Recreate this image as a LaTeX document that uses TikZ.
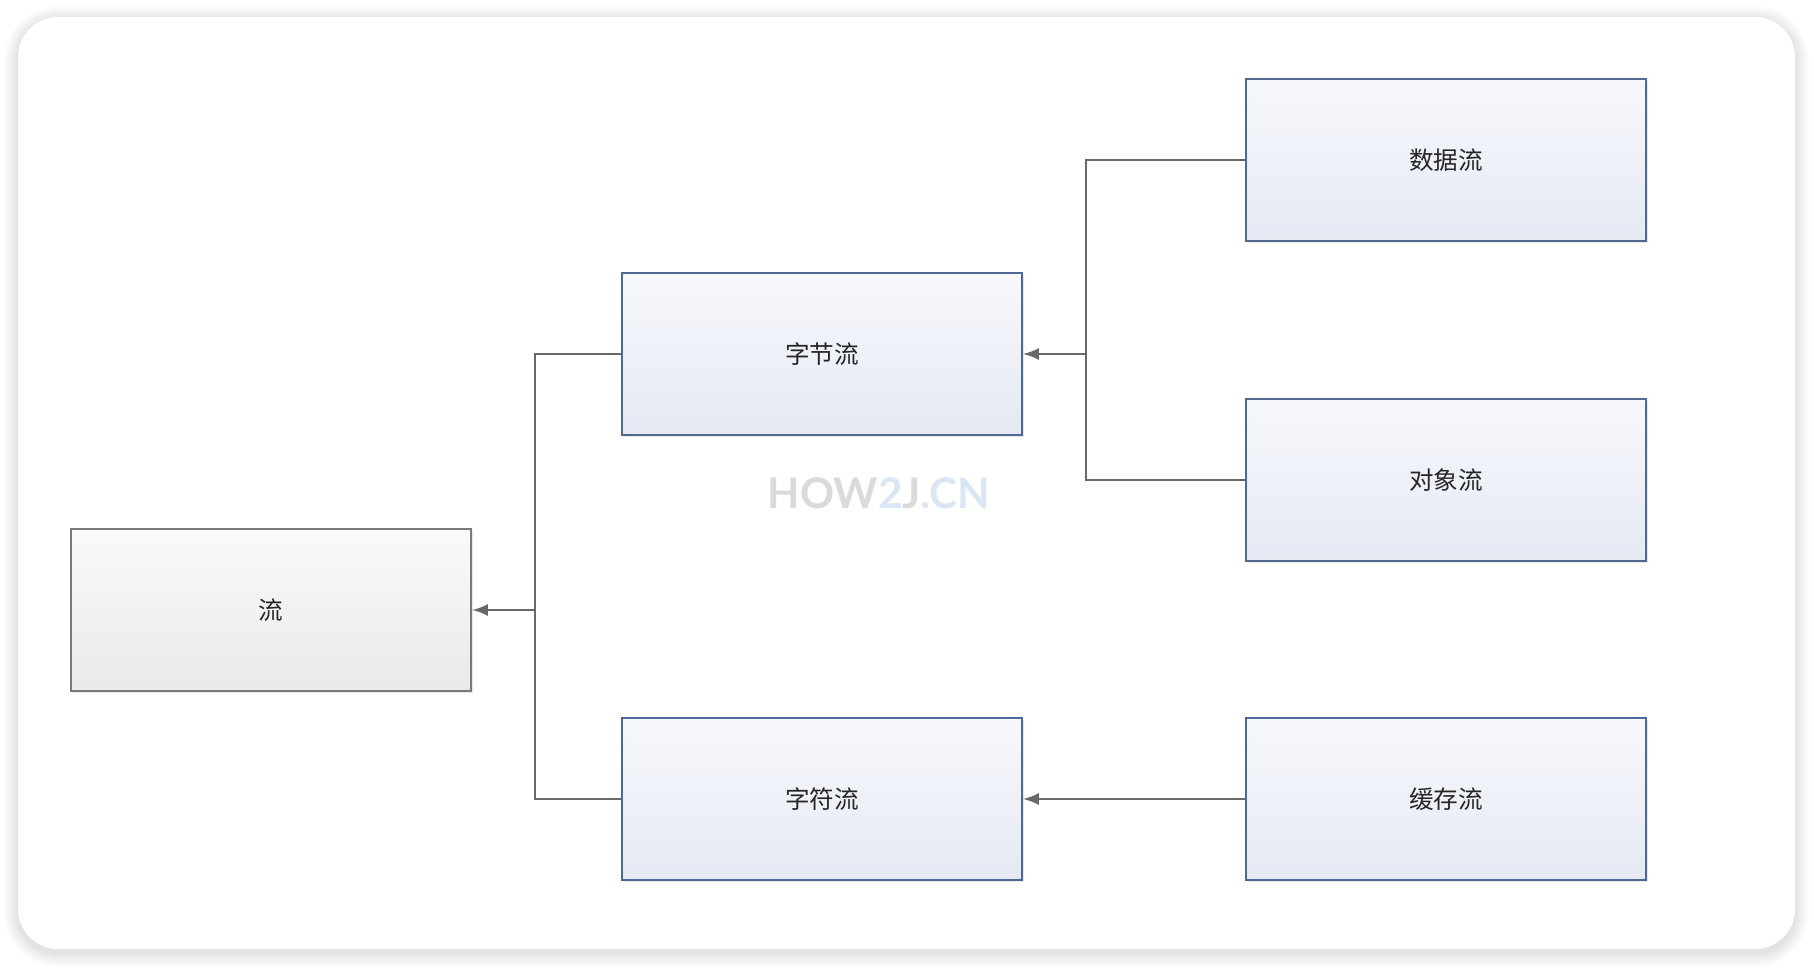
\documentclass[tikz,border=0pt]{standalone}
\usepackage{fontspec}
\newfontfamily\cjk{Noto Sans CJK SC}
\newfontfamily\markfont{Lato}
\usetikzlibrary{shadows}
\definecolor{boxblue}{RGB}{80,105,148}
\definecolor{boxtop}{RGB}{247,248,252}
\definecolor{boxbot}{RGB}{228,233,243}
\definecolor{boxgray}{RGB}{122,122,122}
\definecolor{graytop}{RGB}{250,250,250}
\definecolor{graybot}{RGB}{233,233,233}
\definecolor{linegray}{RGB}{105,105,105}
\definecolor{markgray}{RGB}{218,218,218}
\definecolor{markblue}{RGB}{218,230,244}
\begin{document}
\begin{tikzpicture}
		[x=0.01cm,y=-0.01cm,>=latex,
		 box/.style={rectangle,draw=boxblue,line width=0.6pt,top color=boxtop,bottom color=boxbot,
		   minimum width=4cm,minimum height=1.62cm,inner sep=0pt,
		   font=\cjk\fontsize{7}{8}\selectfont,text=black!85,
		   drop shadow={opacity=0.18,shadow xshift=0.4pt,shadow yshift=-0.6pt}},
		 rootbox/.style={box,draw=boxgray,top color=graytop,bottom color=graybot},
		 link/.style={draw=linegray,line width=0.55pt}]
		\useasboundingbox (0,0) rectangle (1814,968);
		\fill[white] (0,0) rectangle (1814,968);
		% card with soft shadow
		\foreach \i in {1,...,14}
			\fill[black,opacity=0.009,rounded corners=11.4pt+0.28pt*\i] (18-\i,20-\i) rectangle (1795+\i,953+\i);
		\fill[white,rounded corners=11.4pt] (18,17) rectangle (1795,949);
		\node[rootbox,name=liu]at(271,610){流};
		\node[box,name=zj]at(822,354){字节流};
		\node[box,name=zf]at(822,799){字符流};
		\node[box,name=sj]at(1446,160){数据流};
		\node[box,name=dx]at(1446,480){对象流};
		\node[box,name=hc]at(1446,799){缓存流};
		\coordinate (j1) at (535,610);
		\coordinate (j2) at (1086,354);
		\draw[link] (zj.west) -| (j1) |- (zf.west);
		\draw[link,->] (j1) -- (liu.east);
		\draw[link] (sj.west) -| (j2) |- (dx.west);
		\draw[link,->] (j2) -- (zj.east);
		\draw[link,->] (hc.west) -- (zf.east);
		\node[name=mark,font=\markfont\bfseries\fontsize{12}{14}\selectfont,inner sep=0pt]at(879,493)
			{\textcolor{markgray}{HOW}\textcolor{markblue}{2}\textcolor{markgray}{J}\textcolor{markblue}{.CN}};
	\end{tikzpicture}
\end{document}
